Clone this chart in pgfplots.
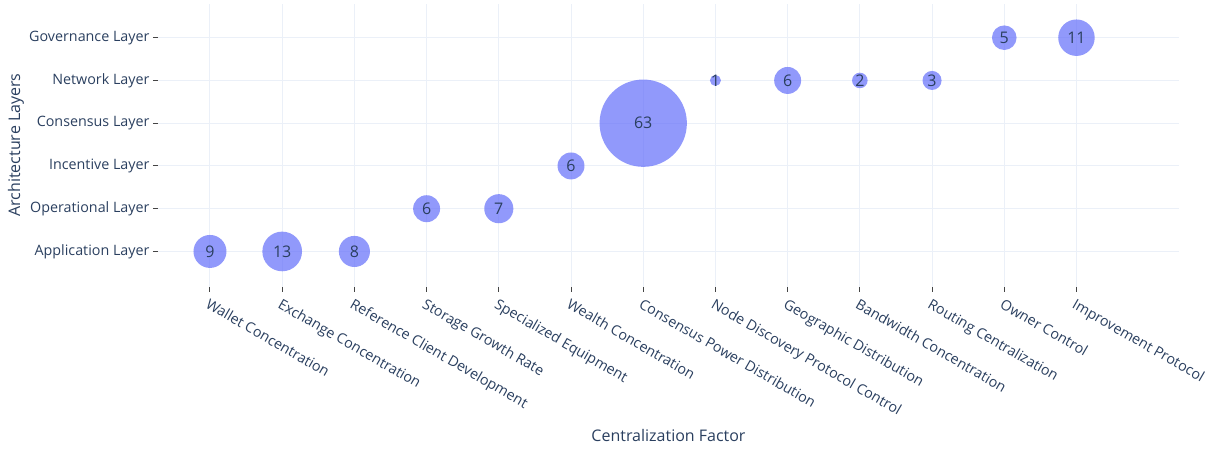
\documentclass[border=0pt]{standalone}
\usepackage{fontspec}
\setmainfont{Open Sans}
\usepackage{pgfplots}
\pgfplotsset{compat=1.18}
\usepackage{pgfplotstable}
\definecolor{txt}{HTML}{2A3F5F}
\definecolor{bub}{HTML}{636EFA}
\definecolor{gridc}{HTML}{EBF0F8}
\definecolor{tickc}{HTML}{444444}

\pgfplotstableread{
x y v
0 0 9
1 0 13
2 0 8
3 1 6
4 1 7
5 2 6
6 3 63
7 4 1
8 4 6
9 4 2
10 4 3
11 5 5
12 5 11
}\bubbles

\begin{document}
\begin{tikzpicture}
\useasboundingbox (0,0) rectangle (1212pt,451pt);
\begin{axis}[
 at={(158pt,164.5pt)}, anchor=south west,
 scale only axis, width=1021pt, height=283pt,
 xmin=-0.72, xmax=13.42, ymin=-0.82, ymax=5.80,
 xtick={0,...,12},
 xticklabels={Wallet Concentration, Exchange Concentration, Reference Client Development, Storage Growth Rate, Specialized Equipment, Wealth Concentration, Consensus Power Distribution, Node Discovery Protocol Control, Geographic Distribution, Bandwidth Concentration, Routing Centralization, Owner Control, Improvement Protocol},
 ytick={0,...,5},
 yticklabels={Application Layer, Operational Layer, Incentive Layer, Consensus Layer, Network Layer, Governance Layer},
 axis line style={draw=none},
 xtick pos=lower, ytick pos=left, tick align=outside, major tick length=5pt,
 tick style={color=tickc, line width=1pt},
 xmajorgrids, ymajorgrids, grid style={color=gridc, line width=1pt},
 ticklabel style={font=\fontsize{14.3}{17}\selectfont, text=txt},
 xticklabel style={rotate=-30, anchor=north west, yshift=-2pt},
 xlabel={Centralization Factor}, ylabel={Architecture Layers},
 label style={font=\fontsize{16}{19}\selectfont, text=txt},
 xlabel style={at={(axis description cs:0.5,-0.527)}, anchor=center},
 ylabel style={at={(axis description cs:-0.139,0.5)}, anchor=center},
 clip=false,
 /pgf/number format/assume math mode=true,
]
\addplot[scatter, only marks, mark=*,
 mark options={draw opacity=0},
 scatter/use mapped color={draw=bub, draw opacity=0, fill=bub, fill opacity=0.7},
 visualization depends on={5.5*sqrt(\thisrow{v}) \as \perpointmarksize},
 scatter/@pre marker code/.append style={/tikz/mark size=\perpointmarksize},
 point meta=\thisrow{v},
] table[x=x,y=y] {\bubbles};
\addplot[only marks, mark=none, draw=none,
 point meta=\thisrow{v},
 nodes near coords, nodes near coords align={center},
 every node near coord/.append style={font=\fontsize{16}{19}\selectfont, text=txt, anchor=center},
] table[x=x,y=y] {\bubbles};
\end{axis}
\end{tikzpicture}
\end{document}
